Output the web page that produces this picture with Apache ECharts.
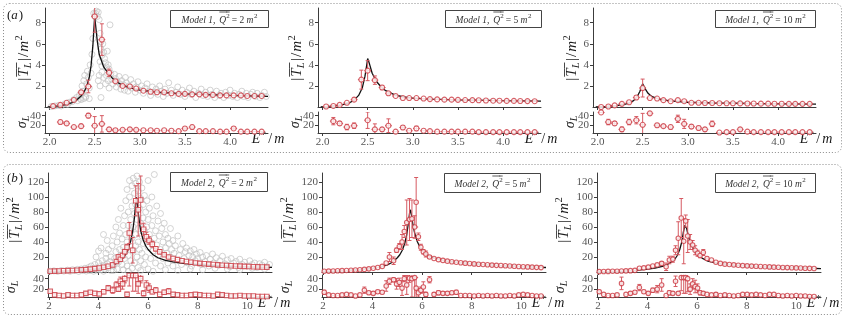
<!DOCTYPE html>
<html><head><meta charset="utf-8">
<script src="https://cdn.jsdelivr.net/npm/echarts@6/dist/echarts.min.js"></script>
<style>html,body{margin:0;padding:0;background:#fff}#c{width:847px;height:318px}</style>
</head><body><div id="c"></div><script>
// ---------------- DATA ----------------
const xTicksA = [2.0, 2.5, 3.0, 3.5, 4.0];
const xTicksB = [2, 4, 6, 8, 10];
const yTicksA = [2, 4, 6, 8];
const yTicksB = [20, 40, 60, 80, 100, 120];
const sigmaTicks = [20, 40];

const binsA = [2.04,2.12,2.19,2.27,2.35,2.43,2.50,2.58,2.66,2.73,2.81,2.89,2.96,3.04,3.12,3.19,3.27,3.35,3.43,3.50,3.58,3.66,3.73,3.81,3.89,3.96,4.04,4.12,4.19,4.27,4.35];

const m1q2T = [0.08,0.2,0.4,0.67,1.4,1.95,8.6,6.4,3.25,2.45,2.0,1.95,1.75,1.55,1.45,1.4,1.4,1.3,1.25,1.25,1.2,1.2,1.15,1.15,1.1,1.1,1.1,1.1,1.05,1.05,1.05];
const m1q2Terr = [0.05,0.05,0.08,0.1,0.15,0.6,1.5,1.5,0.35,0.15,0.12,0.1,0.1,0.1,0.08,0.08,0.08,0.08,0.08,0.08,0.08,0.08,0.08,0.08,0.08,0.08,0.08,0.08,0.08,0.08,0.08];
const m1q2Sig = [null,26,23,15,17,40,18,22,10,8,9,10,9,8,8,7,8,7,6,12,15,6,6,6,5,5,12,5,5,5,5];
const m1q2SigErr = [0,4,3,3,4,5,20,18,4,3,3,3,3,2,2,2,2,2,2,3,4,2,2,2,2,2,3,2,2,2,2];
const m1q2Curve = [[1.98,0.02],[2.05,0.06],[2.1,0.1],[2.15,0.17],[2.2,0.27],[2.25,0.42],[2.3,0.66],[2.35,1.05],[2.38,1.4],[2.41,1.9],[2.44,2.8],[2.46,3.9],[2.48,5.8],[2.495,7.9],[2.5,8.6],[2.51,7.8],[2.53,6.2],[2.55,5.0],[2.6,3.8],[2.65,3.2],[2.7,2.7],[2.75,2.35],[2.8,2.1],[2.9,1.8],[3.0,1.6],[3.2,1.4],[3.5,1.25],[4.0,1.1],[4.42,1.0]];
const m1q2Gray = [[2.02,0.05],[2.06,0.1],[2.1,0.15],[2.13,0.1],[2.17,0.3],[2.2,0.25],[2.22,0.45],[2.25,0.5],[2.27,0.7],[2.3,0.9],[2.31,0.6],[2.33,1.1],[2.34,0.8],[2.36,1.3],[2.35,0.7],[2.38,0.8],[2.4,0.9],[2.44,0.8],
[2.36,2.0],[2.37,1.5],[2.38,2.5],[2.39,3.0],[2.40,1.0],[2.41,2.2],[2.42,3.4],[2.43,2.8],[2.44,1.8],[2.45,4.0],[2.46,3.2],[2.47,5.0],[2.48,6.5],[2.49,8.9],[2.50,8.6],[2.51,8.9],[2.52,9.1],[2.53,8.6],[2.54,9.0],[2.55,8.3],[2.56,7.0],[2.57,6.2],[2.57,5.5],[2.58,4.9],[2.59,6.0],[2.60,5.2],[2.61,4.6],[2.62,4.2],[2.63,3.8],[2.64,5.3],[2.65,4.0],[2.66,3.6],[2.67,7.8],[2.55,3.0],[2.54,2.5],[2.56,2.0],[2.57,0.9],[2.58,3.3],[2.56,4.3],[2.58,3.9],[2.6,2.8],[2.62,2.2],[2.63,3.0],[2.65,2.5],[2.66,1.8],[2.68,3.2],[2.69,2.6],[2.7,2.2],[2.72,3.1],[2.73,2.7],[2.74,1.9],[2.75,2.4],[2.77,2.9],[2.78,2.2],[2.79,1.7],[2.8,2.5],[2.82,2.1],[2.83,1.6],[2.84,2.8],[2.85,2.3],[2.87,1.5],[2.88,2.0],[2.9,2.6],[2.91,1.8],[2.93,2.2],[2.95,1.4],[2.96,1.9],[2.98,2.4],[3.0,1.6],[3.02,2.0],[3.04,1.3],[3.06,1.8],[3.08,2.2],[3.1,1.5],[3.12,1.1],[3.14,1.9],[3.16,1.4],[3.18,1.7],[3.2,1.2],[3.22,2.0],[3.24,1.5],[3.26,1.0],[3.28,1.7],[3.3,1.3],[3.32,2.3],[3.35,1.6],[3.37,1.1],[3.4,1.4],[3.42,1.9],[3.45,1.2],[3.47,1.6],[3.5,1.0],[3.52,1.4],[3.55,1.8],[3.57,1.2],[3.6,1.5],[3.62,0.9],[3.65,1.3],[3.68,1.7],[3.7,1.1],[3.73,1.4],[3.75,1.0],[3.78,1.6],[3.8,1.2],[3.83,0.9],[3.85,1.5],[3.88,1.1],[3.9,1.3],[3.93,0.9],[3.95,1.4],[3.98,1.1],[4.0,1.6],[4.03,1.0],[4.05,1.3],[4.08,0.9],[4.1,1.2],[4.13,1.5],[4.15,1.0],[4.18,1.3],[4.2,0.9],[4.23,1.2],[4.25,1.4],[4.28,1.0],[4.3,1.3],[4.33,0.9],[4.35,1.1],[4.38,1.4],[4.4,1.0]];

const m1q5T = [0.05,0.1,0.2,0.4,0.7,2.6,3.45,2.55,1.85,1.3,1.05,0.85,0.85,0.85,0.8,0.75,0.72,0.7,0.7,0.68,0.66,0.65,0.64,0.62,0.6,0.6,0.58,0.58,0.57,0.56,0.55];
const m1q5Terr = [0.03,0.05,0.05,0.08,0.15,0.9,0.95,0.4,0.2,0.15,0.1,0.08,0.08,0.08,0.06,0.06,0.06,0.06,0.06,0.06,0.06,0.06,0.06,0.06,0.06,0.06,0.06,0.06,0.06,0.06,0.06];
const m1q5Sig = [null,28,23,15,18,null,30,10,10,18,5,14,7,12,7,6,5,5,5,5,5,5,4,4,4,4,4,4,4,4,4];
const m1q5SigErr = [0,8,4,6,6,0,18,12,4,15,2,4,2,5,2,2,2,2,2,2,2,2,1,1,1,1,1,1,1,1,1];
const m1q5Curve = [[1.98,0.02],[2.1,0.08],[2.2,0.17],[2.3,0.4],[2.35,0.65],[2.4,1.1],[2.44,1.8],[2.47,2.9],[2.49,4.0],[2.5,4.6],[2.52,4.1],[2.55,3.2],[2.6,2.4],[2.65,1.9],[2.7,1.55],[2.8,1.15],[2.9,0.95],[3.0,0.85],[3.2,0.75],[3.5,0.67],[4.0,0.6],[4.42,0.56]];

const m1q10T = [0.0,0.05,0.15,0.3,0.45,0.9,1.8,0.85,0.8,0.65,0.55,0.65,0.55,0.4,0.4,0.38,0.38,0.36,0.35,0.35,0.34,0.33,0.33,0.32,0.32,0.31,0.31,0.3,0.3,0.3,0.3];
const m1q10Terr = [0.02,0.03,0.05,0.08,0.1,0.15,0.85,0.1,0.1,0.08,0.08,0.08,0.06,0.05,0.05,0.05,0.05,0.05,0.05,0.05,0.05,0.05,0.05,0.05,0.05,0.05,0.05,0.05,0.05,0.05,0.05];
const m1q10Sig = [47,26,23,10,26,30,20,45,19,17,15,33,22,16,13,10,22,3,4,4,10,5,4,4,4,4,4,4,4,4,4];
const m1q10SigErr = [1,6,4,5,6,8,25,3,4,3,4,8,10,4,4,4,6,1,1,1,3,1,1,1,1,1,1,1,1,1,1];
const m1q10Curve = [[1.98,0.01],[2.1,0.05],[2.2,0.12],[2.3,0.25],[2.35,0.38],[2.4,0.6],[2.44,1.0],[2.47,1.5],[2.5,2.2],[2.53,1.7],[2.56,1.3],[2.6,1.0],[2.65,0.85],[2.7,0.72],[2.8,0.58],[3.0,0.45],[3.3,0.38],[3.7,0.33],[4.1,0.3],[4.42,0.28]];

const binsB1 = [2.05,2.23,2.41,2.59,2.77,2.95,3.13,3.31,3.49,3.67,3.85,4.03,4.21,4.39,4.57,4.72,4.80,4.88,4.97,5.06,5.15,5.24,5.38,5.50,5.60,5.70,5.82,5.93,6.04,6.17,6.31,6.47,6.65,6.83,7.01,7.19,7.37,7.55,7.73,7.91,8.09,8.27,8.45,8.63,8.81,8.99,9.17,9.35,9.53,9.71,9.89,10.07,10.25,10.43,10.61,10.79];
const m2q2T = [1.0,1.2,1.4,1.6,1.8,2.1,2.4,2.8,3.2,3.8,4.5,5.3,6.3,7.6,9.5,14,20,17,22,27,33,52,29,95,83,96,57,47,42,37,31,27,23,20,18,16.5,15,14,13,12,11.5,11,10.5,10,9.5,9,8.7,8.4,8.1,7.8,7.5,7.3,7.1,6.9,6.7,6.5];
const m2q2Terr = [0.3,0.3,0.3,0.3,0.3,0.3,0.4,0.4,0.4,0.5,0.5,0.6,0.7,0.8,1,2,3,3,3,3,4,14,17,20,35,32,8,6,5,4,3,3,2,2,1.5,1.5,1,1,1,1,1,1,1,1,1,1,1,1,1,1,1,1,1,1,1,1];
const m2q2Sig = [16,9,8,7,9,8,8,9,12,14,12,11,15,22,18,28,20,35,30,40,10,46,46,46,30,40,12,28,22,15,18,10,14,16,10,9,8,8,9,10,9,8,8,7,10,9,8,7,7,8,7,7,7,6,6,6];
const m2q2SigErr = [3,2,1,1,2,1,1,1,3,3,2,2,4,5,6,6,4,8,10,8,4,20,30,30,18,8,5,8,8,4,5,2,4,5,2,1,1,1,1,2,1,1,1,1,2,1,1,1,1,1,1,1,1,1,1,1];
const m2q2Curve = [[1.96,0.8],[2.5,1.2],[3,1.8],[3.5,2.8],[4,4.5],[4.3,6.5],[4.6,9.5],[4.8,13],[5.0,19],[5.1,24],[5.2,31],[5.3,42],[5.38,55],[5.44,70],[5.49,88],[5.52,100],[5.56,92],[5.6,80],[5.65,66],[5.7,55],[5.8,43],[5.9,35],[6.0,30],[6.2,23],[6.4,19],[6.7,15.5],[7,13.5],[7.5,11.3],[8,10],[8.5,9],[9,8.2],[9.5,7.5],[10,7],[10.5,6.5],[11,6.1]];
const m2q2Gray = [[2.05,1],[2.2,1.5],[2.35,0.8],[2.5,2],[2.6,1.2],[2.75,2.5],[2.85,1],[2.95,3],[3.05,1.8],[3.15,3.5],[3.2,0.8],[3.3,4],[3.35,2],[3.45,5],[3.5,1.2],[3.55,3],
[3.6,6],[3.65,2],[3.7,8],[3.75,4],[3.8,1],[3.85,10],[3.9,5],[3.95,2.5],[4.0,12],[4.05,7],[4.1,3],[4.15,15],[4.2,9],[4.25,4],[4.3,18],[4.3,25],[4.35,11],[4.4,6],[4.4,30],[4.45,14],[4.5,2],[4.5,20],[4.1,32],[4.2,50],[4.35,42],[3.9,20],[4.0,28],
[4.55,35],[4.6,8],[4.6,48],[4.65,18],[4.7,60],[4.7,27],[4.75,4],[4.75,40],[4.8,13],[4.8,70],[4.85,52],[4.85,30],[4.9,22],[4.9,85],[4.95,44],[4.95,10],[5.0,62],[5.0,33],[5.0,3],
[5.05,75],[5.05,18],[5.1,95],[5.1,50],[5.1,28],[5.15,110],[5.15,40],[5.15,8],[5.2,80],[5.2,62],[5.2,22],[5.25,122],[5.25,100],[5.25,35],[5.3,70],[5.3,15],[5.3,55],[5.35,115],[5.35,88],[5.35,45],[5.35,5],[5.4,125],[5.4,60],[5.4,28],[5.45,105],[5.45,78],[5.45,12],[5.5,118],[5.5,90],[5.5,50],[5.5,35],
[5.55,128],[5.55,70],[5.55,20],[5.6,108],[5.6,58],[5.6,40],[5.6,6],[5.65,120],[5.65,85],[5.65,30],[5.7,98],[5.7,65],[5.7,15],[5.75,112],[5.75,48],[5.75,25],[5.8,90],[5.8,72],[5.8,38],[5.85,102],[5.85,55],[5.85,10],[5.9,80],[5.9,45],[5.9,20],[5.95,95],[5.95,60],[6.0,122],[6.0,70],[6.0,33],[6.0,4],
[6.05,85],[6.05,50],[6.1,40],[6.1,18],[6.15,100],[6.15,62],[6.2,75],[6.2,28],[6.25,130],[6.25,45],[6.3,55],[6.3,12],[6.35,88],[6.35,36],[6.4,68],[6.4,22],[6.45,48],[6.5,78],[6.5,30],[6.5,8],[6.55,58],[6.6,40],[6.6,18],[6.65,65],[6.7,32],[6.7,50],[6.75,25],[6.8,45],[6.8,12],[6.85,38],[6.9,58],[6.9,20],[6.95,30],[7.0,42],[7.0,8],
[7.05,25],[7.1,35],[7.15,15],[7.2,48],[7.25,22],[7.3,30],[7.35,10],[7.4,38],[7.45,18],[7.5,27],[7.55,32],[7.6,12],[7.65,22],[7.7,28],[7.75,8],[7.8,20],[7.85,30],[7.9,15],[7.95,24],
[8.0,18],[8.1,26],[8.15,10],[8.2,20],[8.3,14],[8.35,22],[8.45,8],[8.5,17],[8.6,24],[8.65,12],[8.75,19],[8.85,9],[8.9,15],[9.0,21],[9.1,11],[9.2,16],[9.3,7],[9.35,18],[9.45,12],[9.55,14],[9.65,6],[9.7,17],[9.8,10],[9.9,13],[10.0,8],[10.1,15],[10.2,10],[10.3,12],[10.4,6],[10.5,11],[10.6,9],[10.7,13],[10.8,7],[10.9,10],
[4.2,1],[4.6,2],[5.2,1],[5.7,2],[6.2,1],[6.7,3],[7.2,2],[7.7,4],[8.2,3],[8.7,5],[9.2,4],[9.7,3],[10.2,5],[10.7,4]];

const binsB2 = [2.05,2.23,2.41,2.59,2.77,2.95,3.13,3.31,3.49,3.67,3.85,4.03,4.21,4.39,4.55,4.68,4.85,4.97,5.08,5.19,5.28,5.38,5.49,5.59,5.70,5.76,5.85,5.95,6.05,6.15,6.30,6.48,6.66,6.84,7.02,7.20,7.38,7.56,7.74,7.92,8.10,8.28,8.46,8.64,8.82,9.00,9.18,9.36,9.54,9.72,9.90,10.08,10.26,10.44,10.62,10.80];
const m2q5T = [1.0,1.2,1.4,1.6,1.8,2.0,2.3,2.6,3.0,3.5,4.2,5.0,6.0,7.5,12,20,15,29,34,40,54,66,70,71,60,93,47,33,27,24,20,18,16.5,15.5,14.5,13.7,13,12.4,11.8,11.3,10.8,10.4,10,9.6,9.2,8.9,8.6,8.3,8,7.7,7.4,7.1,6.8,6.5,6.2,5.9];
const m2q5Terr = [0.2,0.2,0.2,0.2,0.2,0.2,0.3,0.3,0.3,0.4,0.4,0.5,0.6,0.8,1.5,6,5,3,4,10,8,30,28,25,15,33,5,4,3,4,2,1.5,1,1,1,1,1,1,1,1,1,1,1,1,1,1,1,1,1,1,1,1,1,1,1,1];
const m2q5Sig = [14,9,8,8,9,10,9,7,9,18,13,12,15,14,26,35,38,30,33,22,40,28,41,40,42,22,13,18,24,10,38,10,13,12,12,13,14,8,8,8,7,8,7,8,7,8,7,7,8,7,9,10,9,8,7,7];
const m2q5SigErr = [4,2,1,1,2,2,2,1,1,6,3,3,3,3,10,6,4,10,8,14,6,18,8,35,38,20,8,6,10,4,6,3,4,3,3,3,4,1,1,1,1,1,1,1,1,1,1,1,1,1,1,2,1,1,1,1];
const m2q5Curve = [[1.96,0.8],[2.5,1.3],[3,2],[3.5,3],[4,4.8],[4.3,6.5],[4.6,9.5],[4.8,13],[5.0,19],[5.1,23],[5.2,29],[5.3,38],[5.38,50],[5.44,64],[5.5,80],[5.53,83],[5.58,74],[5.63,63],[5.7,52],[5.8,41],[5.9,34],[6.0,29],[6.2,23],[6.4,19.5],[6.7,16.5],[7,14.5],[7.5,12.4],[8,11],[8.5,9.8],[9,8.8],[9.5,8],[10,7.2],[10.5,6.5],[11,6]];

const binsB3 = [2.05,2.23,2.41,2.59,2.77,2.95,3.13,3.31,3.49,3.67,3.85,4.03,4.21,4.39,4.57,4.75,4.88,5.02,5.13,5.24,5.36,5.46,5.54,5.62,5.72,5.82,5.92,6.02,6.12,6.25,6.40,6.58,6.76,6.94,7.12,7.30,7.48,7.66,7.84,8.02,8.20,8.38,8.56,8.74,8.92,9.10,9.28,9.46,9.64,9.82,10.00,10.18,10.36,10.54,10.72];
const m2q10T = [0.5,0.6,0.8,1.0,1.1,1.3,1.5,1.8,2.2,5,5.5,6.5,8,9.5,11.5,7,16,17,29,45,72,41,68,48,40,36,29,25,22,26,18,16,13,11.5,10.5,10,9.5,9,8.5,8.2,7.9,7.6,7.3,7,6.8,6.5,6.3,6.1,5.9,5.7,5.5,5.3,5.1,4.9,4.7];
const m2q10Terr = [0.2,0.2,0.2,0.2,0.2,0.3,0.3,0.3,0.4,1,1,1,1.2,1.5,2,5,5,4,6,22,26,30,8,22,10,6,6,4,3,4,2,1.5,1,1,1,1,1,1,1,1,1,1,1,1,1,1,1,1,1,1,1,1,1,1,1];
const m2q10Sig = [15,10,8,8,9,31,10,12,14,23,15,12,18,20,28,8,13,12,35,12,42,42,42,40,20,30,25,22,13,12,10,9,10,8,9,8,7,8,10,10,9,10,9,8,10,10,8,7,8,7,8,7,7,6,6];
const m2q10SigErr = [3,2,1,1,2,12,2,3,3,6,3,3,4,7,12,2,4,3,10,3,25,30,30,25,10,10,12,8,4,3,2,1,3,1,1,1,1,1,2,2,1,2,1,1,2,2,1,1,1,1,1,1,1,1,1];
const m2q10Curve = [[1.96,0.4],[2.5,0.8],[3,1.3],[3.5,2.2],[4,3.8],[4.3,5.2],[4.6,7.5],[4.8,10],[5.0,14],[5.1,17],[5.2,22],[5.3,30],[5.38,40],[5.44,52],[5.5,62],[5.53,64],[5.58,58],[5.63,50],[5.7,42],[5.8,34],[5.9,28],[6.0,24],[6.2,18.5],[6.4,15],[6.7,12.5],[7,11],[7.5,9.3],[8,8.2],[8.5,7.3],[9,6.6],[9.5,6],[10,5.5],[10.5,5],[11,4.6]];

// ---------------- STYLE / LAYOUT ----------------
const SERIF = '"Liberation Serif","DejaVu Serif",serif';
const RED = '#cc3a42', RED_E = '#d65a62', GRAY = '#c2c2c2', AX = '#3c3c3c', TXT = '#1a1a1a', TICK = '#555';

const panels = [
  {row:'a', left:45,  bins:binsA, T:m1q2T, Te:m1q2Terr, S:m1q2Sig, Se:m1q2SigErr, curve:m1q2Curve, gray:m1q2Gray, model:'1', q:'2',  box:[170,10,98,17]},
  {row:'a', left:318, bins:binsA, T:m1q5T, Te:m1q5Terr, S:m1q5Sig, Se:m1q5SigErr, curve:m1q5Curve, model:'1', q:'5',  box:[445,10,96,17]},
  {row:'a', left:593, bins:binsA, T:m1q10T, Te:m1q10Terr, S:m1q10Sig, Se:m1q10SigErr, curve:m1q10Curve, model:'1', q:'10', box:[715,10,100,17]},
  {row:'b', left:48,  bins:binsB1, T:m2q2T, Te:m2q2Terr, S:m2q2Sig, Se:m2q2SigErr, curve:m2q2Curve, gray:m2q2Gray, model:'2', q:'2', box:[170,172,97,19], symbol:'rect'},
  {row:'b', left:322, bins:binsB2, T:m2q5T, Te:m2q5Terr, S:m2q5Sig, Se:m2q5SigErr, curve:m2q5Curve, model:'2', q:'5', box:[444,173,96,19]},
  {row:'b', left:597, bins:binsB3, T:m2q10T, Te:m2q10Terr, S:m2q10Sig, Se:m2q10SigErr, curve:m2q10Curve, model:'2', q:'10', box:[715,173,100,19]}
];
const rowCfg = {
  a:{w:223, mainTop:8, mainH:99, sigTop:112, sigH:21, xMin:1.95, xMax:4.42, yMax:9.4, sMin:2, sMax:48,
     xTicks:xTicksA, yTicks:yTicksA, halfX:0.038, mSize:5, gSize:6, fmt:v=>v.toFixed(1),
     yLab:[-21,58], sLab:[-23,122], xLab:[0,139]},
  b:{w:224, mainTop:173, mainH:99, sigTop:275, sigH:22, xMin:1.96, xMax:11.0, yMax:132, sMin:5, sMax:47,
     xTicks:xTicksB, yTicks:yTicksB, halfX:0.08, mSize:4.5, gSize:6, fmt:v=>String(v),
     yLab:[-33,220], sLab:[-37,287], xLab:[2,303]}
};

const mctx = document.createElement('canvas').getContext('2d');
function tw(s, font){ mctx.font = font; return mctx.measureText(s).width; }
function fontOf(p){ return (p.it ? 'italic ' : '') + p.size + 'px ' + SERIF; }
function mathGroup(parts, cx, cy, rot, color){
  let x = 0;
  const items = parts.map(p => { const f = fontOf(p); const w = tw(p.t, f); const it = {p, f, w, x}; x += w + (p.gap || 0); return it; });
  const W = x, kids = [];
  items.forEach(it => {
    const x0 = it.x - W/2;
    kids.push({type:'text', x:x0, y:(it.p.dy || 0), style:{text:it.p.t, font:it.f, fill:color,
      align:'left', verticalAlign:'middle', textAlign:'left', textVerticalAlign:'middle'}});
    if (it.p.ol !== undefined) {
      kids.push({type:'line', shape:{x1:x0 + (it.p.olx || 0), y1:it.p.ol, x2:x0 + it.w + (it.p.olx || 0) + (it.p.olw || 0), y2:it.p.ol}, style:{stroke:color, lineWidth:0.8}});
    }
  });
  return {type:'group', x:cx, y:cy, rotation:rot, children:kids, silent:true};
}

function errSeries(xi, yi, pts, halfX, cap){
  return {type:'custom', xAxisIndex:xi, yAxisIndex:yi, clip:true, z:3, silent:true, data:pts,
    encode:{x:0, y:1},
    renderItem:function(params, api){
      const x = api.value(0), y = api.value(1), e = api.value(2);
      const L = api.coord([x - halfX, y]), R = api.coord([x + halfX, y]);
      const T = api.coord([x, y + e]), B = api.coord([x, y - e]);
      const st = {stroke:RED_E, lineWidth:1};
      const ch = [{type:'line', shape:{x1:L[0], y1:L[1], x2:R[0], y2:R[1]}, style:st}];
      if (Math.abs(B[1] - T[1]) > 2.5) {
        ch.push({type:'line', shape:{x1:T[0], y1:T[1], x2:B[0], y2:B[1]}, style:st});
        ch.push({type:'line', shape:{x1:T[0]-cap, y1:T[1], x2:T[0]+cap, y2:T[1]}, style:st});
        ch.push({type:'line', shape:{x1:B[0]-cap, y1:B[1], x2:B[0]+cap, y2:B[1]}, style:st});
      }
      return {type:'group', children:ch};
    }};
}
function markSeries(xi, yi, pts, size, symbol){
  return {type:'scatter', xAxisIndex:xi, yAxisIndex:yi, data:pts, encode:{x:0, y:1}, symbol:symbol || 'circle',
    symbolSize:size, z:4, silent:true, clip:true,
    itemStyle:{color:'#fff', borderColor:RED, borderWidth:1.1}};
}
function axisCommon(){
  return {axisLine:{show:true, onZero:false, lineStyle:{color:AX, width:1}}, splitLine:{show:false}};
}

const grid = [], xAxis = [], yAxis = [], series = [], graphic = [];
const sigmaAxes = [];

graphic.push({type:'rect', shape:{x:3.5, y:3.5, width:838, height:149, r:6}, style:{fill:'none', stroke:'#8a8a8a', lineWidth:1, lineDash:[1,2]}, silent:true});
graphic.push({type:'rect', shape:{x:3.5, y:164.5, width:838, height:150, r:6}, style:{fill:'none', stroke:'#8a8a8a', lineWidth:1, lineDash:[1,2]}, silent:true});
graphic.push(mathGroup([{t:'(',size:13},{t:'a',size:13,it:true,gap:1},{t:')',size:13}], 15, 16, 0, TXT));
graphic.push(mathGroup([{t:'(',size:13},{t:'b',size:13,it:true,gap:1},{t:')',size:13}], 15, 179, 0, TXT));

const lblFont = {fontFamily:SERIF, fontSize:11, color:TICK, hideOverlap:false, showMinLabel:true, showMaxLabel:true};
panels.forEach((p, i) => {
  const c = rowCfg[p.row];
  const gMain = grid.length;
  grid.push({left:p.left, top:c.mainTop, width:c.w, height:c.mainH, outerBoundsMode:'none', containLabel:false});
  const gSig = grid.length;
  grid.push({left:p.left, top:c.sigTop, width:c.w, height:c.sigH, outerBoundsMode:'none', containLabel:false});

  const xMain = xAxis.length;
  xAxis.push(Object.assign(axisCommon(), {type:'value', gridIndex:gMain, min:c.xMin, max:c.xMax,
    axisTick:{show:true, length:3, lineStyle:{color:AX}, customValues:c.xTicks}, axisLabel:{show:false}}));
  const xSig = xAxis.length;
  xAxis.push(Object.assign(axisCommon(), {type:'value', gridIndex:gSig, min:c.xMin, max:c.xMax,
    axisTick:{show:true, length:3, lineStyle:{color:AX}, customValues:c.xTicks},
    axisLabel:Object.assign({show:true, margin:4, customValues:c.xTicks, formatter:c.fmt}, lblFont)}));

  const yMain = yAxis.length;
  yAxis.push(Object.assign(axisCommon(), {type:'value', gridIndex:gMain, min:0, max:c.yMax,
    axisTick:{show:true, length:3, lineStyle:{color:AX}, customValues:c.yTicks},
    axisLabel:Object.assign({show:true, margin:4, customValues:c.yTicks}, lblFont)}));
  const ySig = yAxis.length;
  yAxis.push(Object.assign(axisCommon(), {type:'value', gridIndex:gSig, min:c.sMin, max:c.sMax,
    axisTick:{show:true, length:3, lineStyle:{color:AX}, customValues:sigmaTicks},
    axisLabel:Object.assign({show:true, margin:4, customValues:[sigmaTicks[1]]}, lblFont)}));
  sigmaAxes.push({yi:ySig, left:p.left});

  if (p.gray) series.push({type:'scatter', xAxisIndex:xMain, yAxisIndex:yMain, data:p.gray, symbol:'circle', symbolSize:c.gSize,
    itemStyle:{color:'rgba(255,255,255,0)', borderColor:GRAY, borderWidth:0.9}, z:1, silent:true, clip:true});
  series.push({type:'line', xAxisIndex:xMain, yAxisIndex:yMain, data:p.curve, showSymbol:false, symbol:'none',
    lineStyle:{color:'#111', width:1.3}, z:2, silent:true, clip:true});
  const pts = p.bins.map((x, k) => [x, p.T[k], p.Te[k]]);
  series.push(errSeries(xMain, yMain, pts, c.halfX, 2));
  series.push(markSeries(xMain, yMain, pts, c.mSize, p.symbol));
  const sp = p.bins.map((x, k) => [x, p.S[k], p.Se[k]]).filter(d => d[1] !== null && d[1] !== undefined);
  series.push(errSeries(xSig, ySig, sp, c.halfX, 2));
  series.push(markSeries(xSig, ySig, sp, c.mSize, p.symbol));

  // legend box
  const b = p.box;
  graphic.push({type:'rect', shape:{x:b[0]+0.5, y:b[1]+0.5, width:b[2], height:b[3]}, style:{fill:'#fff', stroke:'#444', lineWidth:1}, silent:true});
  graphic.push(mathGroup([
    {t:'Model '+p.model+',', size:9.5, it:true, gap:4},
    {t:'Q', size:9.5, it:true, ol:-8, olw:1},
    {t:'2', size:7, dy:-3.5, ol:-8, gap:2},
    {t:'= '+p.q+' ', size:9.5},
    {t:'m', size:9.5, it:true, gap:0.5},
    {t:'2', size:7, dy:-3.5}
  ], b[0] + b[2]/2 + 0.5, b[1] + b[3]/2 + 1.5, 0, '#333'));

  // y label |T_L|/m^2
  graphic.push(mathGroup([
    {t:'|', size:15, gap:1},
    {t:'T', size:15, it:true, ol:-7.5},
    {t:'L', size:10.5, it:true, dy:4, ol:-7.5, gap:1.5},
    {t:'|', size:15, gap:1},
    {t:'/', size:15, gap:1},
    {t:'m', size:15, it:true, gap:0.5},
    {t:'2', size:10.5, dy:-5}
  ], p.left + c.yLab[0], c.yLab[1], Math.PI/2, TXT));
  // sigma label
  graphic.push(mathGroup([
    {t:'σ', size:14, it:true},
    {t:'L', size:10, it:true, dy:4}
  ], p.left + c.sLab[0], c.sLab[1], Math.PI/2, TXT));
  // x label E*/m
  graphic.push(mathGroup([
    {t:'E', size:14, it:true, gap:0.5},
    {t:'*', size:11, dy:-4, gap:2},
    {t:'/', size:14, gap:2},
    {t:'m', size:14, it:true}
  ], p.left + c.w + c.xLab[0], c.xLab[1], 0, TXT));
});

const chart = echarts.init(document.getElementById('c'), null, {renderer:'canvas'});
chart.setOption({animation:false, backgroundColor:'#fff', grid, xAxis, yAxis, series, graphic:{elements:graphic}});

// lower sigma tick label ("20"), placed through the sigma axis' own scale
const tickFont = '11px ' + SERIF;
const extra = sigmaAxes.map(s => {
  const py = chart.convertToPixel({yAxisIndex:s.yi}, sigmaTicks[0]);
  const txt = String(sigmaTicks[0]);
  const w = tw(txt, tickFont);
  return {type:'text', x:s.left - 4 - w, y:py, z:100, silent:true,
    style:{text:txt, font:tickFont, fill:TICK, align:'left', verticalAlign:'middle', textAlign:'left', textVerticalAlign:'middle'}};
});
chart.setOption({graphic:{elements:graphic.concat(extra)}});
</script></body></html>
